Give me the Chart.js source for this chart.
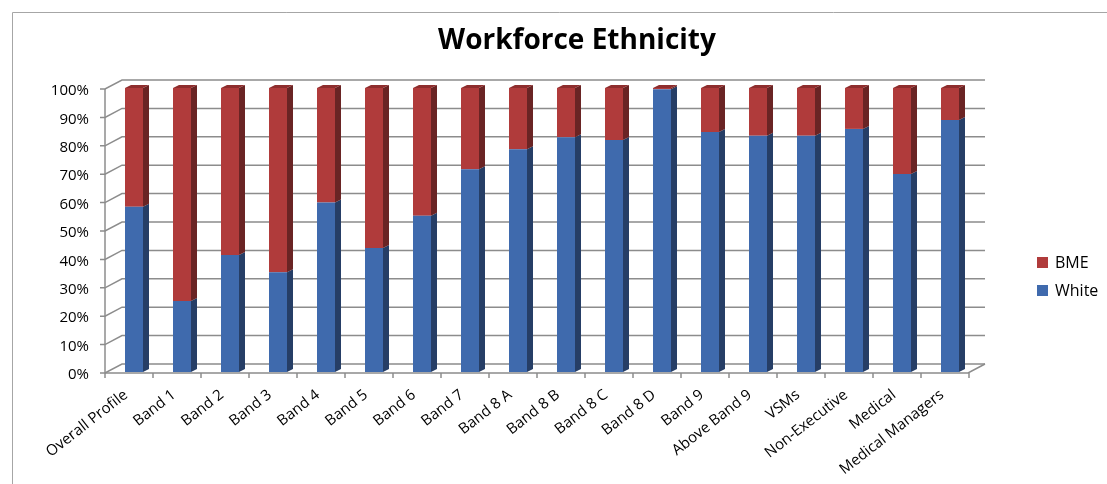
<!DOCTYPE html>
<html>
<head>
<meta charset="utf-8">
<title>Workforce Ethnicity</title>
<script src="https://cdn.jsdelivr.net/npm/chart.js@4.4.1/dist/chart.umd.min.js"></script>
<style>
  html, body { margin: 0; padding: 0; background: #fff; }
  #wrap { position: relative; width: 1107px; height: 484px; }
</style>
</head>
<body>
<div id="wrap"><canvas id="ethnicityChart"></canvas></div>
<script>
// Categorias e percentuais por grupo
const categorias = [
  "Overall Profile", "Band 1", "Band 2", "Band 3", "Band 4", "Band 5", "Band 6",
  "Band 7", "Band 8 A", "Band 8 B", "Band 8 C", "Band 8 D", "Band 9",
  "Above Band 9", "VSMs", "Non-Executive", "Medical", "Medical Managers"
];
const white = [58.2, 25, 41.2, 35.1, 59.7, 43.7, 55, 71.4, 78.4, 82.7, 81.7, 99.6, 84.5, 83.2, 83.2, 85.6, 69.7, 88.7];
const bme = [41.8, 75, 58.8, 64.9, 40.3, 56.3, 45, 28.6, 21.6, 17.3, 18.3, 0.4, 15.5, 16.8, 16.8, 14.4, 30.3, 11.3];
const yTicks = [0, 10, 20, 30, 40, 50, 60, 70, 80, 90, 100];

const cores = {
  white: { front: "#3f6aad", side: "#263e66", top: "#35598f" },
  bme: { front: "#b03b3b", side: "#6a2424", top: "#8e2e2e" },
};
const DX = 17, DY = 9;   // profundidade das paredes
const BX = 6, BY = 3;    // profundidade das barras
const GRID = "#8c8c8c";
const FONT = "'Open Sans', 'DejaVu Sans', sans-serif";

// Paredes, piso e linhas de grade em perspectiva
const wallsPlugin = {
  id: "walls",
  beforeDatasetsDraw(chart) {
    const { ctx, chartArea, scales } = chart;
    const y = scales.y;
    const fx0 = chartArea.left - 5;
    const fx1 = chartArea.right - 6;
    ctx.save();
    ctx.strokeStyle = GRID;
    ctx.lineWidth = 1.5;
    yTicks.forEach((v) => {
      const fy = y.getPixelForValue(v) + 1;
      ctx.beginPath();
      ctx.moveTo(fx0 - 5, fy);
      ctx.lineTo(fx0, fy);
      ctx.lineTo(fx0 + DX, fy - DY);
      ctx.lineTo(fx1 + DX, fy - DY);
      ctx.stroke();
    });
    // aresta frontal da parede esquerda
    ctx.beginPath();
    ctx.moveTo(fx0, y.getPixelForValue(100) + 1);
    ctx.lineTo(fx0, y.getPixelForValue(0) + 1);
    ctx.stroke();
    // piso
    const by = y.getPixelForValue(0) + 1;
    ctx.beginPath();
    ctx.moveTo(fx0, by);
    ctx.lineTo(fx1, by);
    ctx.lineTo(fx1 + DX, by - DY);
    ctx.stroke();
    const step = (chartArea.right - chartArea.left) / categorias.length;
    for (let i = 0; i <= categorias.length; i++) {
      const tx = fx0 + i * step;
      ctx.beginPath();
      ctx.moveTo(tx, by);
      ctx.lineTo(tx, by + 5);
      ctx.stroke();
    }
    ctx.restore();
  },
  afterDatasetsDraw(chart) {
    const { ctx } = chart;
    const keys = ["white", "bme"];
    ctx.save();
    chart.data.datasets.forEach((ds, di) => {
      const meta = chart.getDatasetMeta(di);
      const c = cores[keys[di]];
      meta.data.forEach((bar, i) => {
        const right = bar.x + bar.width / 2;
        const left = bar.x - bar.width / 2;
        const top = Math.min(bar.y, bar.base);
        const bottom = Math.max(bar.y, bar.base);
        // lateral
        ctx.fillStyle = c.side;
        ctx.beginPath();
        ctx.moveTo(right, top);
        ctx.lineTo(right + BX, top - BY);
        ctx.lineTo(right + BX, bottom - BY);
        ctx.lineTo(right, bottom);
        ctx.closePath();
        ctx.fill();
        // topo apenas no último segmento da pilha
        if (di === chart.data.datasets.length - 1) {
          ctx.fillStyle = c.top;
          ctx.beginPath();
          ctx.moveTo(left, top);
          ctx.lineTo(left + BX, top - BY);
          ctx.lineTo(right + BX, top - BY);
          ctx.lineTo(right, top);
          ctx.closePath();
          ctx.fill();
        }
      });
    });
    ctx.restore();
  },
  afterDraw(chart) {
    const { ctx } = chart;
    ctx.save();
    // moldura
    ctx.strokeStyle = "#a6a6a6";
    ctx.lineWidth = 1;
    ctx.beginPath();
    ctx.moveTo(12.5, 484);
    ctx.lineTo(12.5, 12.5);
    ctx.lineTo(1107, 12.5);
    ctx.stroke();
    // título
    ctx.fillStyle = "#000";
    ctx.font = "bold 28px " + FONT;
    ctx.textAlign = "center";
    ctx.textBaseline = "middle";
    ctx.fillText("Workforce Ethnicity", 577, 41);
    // legenda (BME em cima)
    ctx.font = "16px " + FONT;
    ctx.textAlign = "left";
    const itens = [
      { label: chart.data.datasets[1].label, cor: cores.bme.front, y: 262 },
      { label: chart.data.datasets[0].label, cor: cores.white.front, y: 290 },
    ];
    itens.forEach((it) => {
      ctx.fillStyle = it.cor;
      ctx.fillRect(1037, it.y - 5, 11, 11);
      ctx.fillStyle = "#000";
      ctx.fillText(it.label, 1055, it.y + 1);
    });
    ctx.restore();
  },
};

new Chart(document.getElementById("ethnicityChart"), {
  type: "bar",
  data: {
    labels: categorias,
    datasets: [
      { label: "White", data: white, backgroundColor: cores.white.front },
      { label: "BME", data: bme, backgroundColor: cores.bme.front },
    ],
  },
  options: {
    responsive: true,
    maintainAspectRatio: false,
    animation: false,
    devicePixelRatio: 1,
    layout: { padding: { left: 14, right: 133, top: 88, bottom: 0 } },
    datasets: { bar: { barPercentage: 0.375, categoryPercentage: 1 } },
    plugins: {
      legend: { display: false },
      title: { display: false },
      tooltip: { enabled: false },
    },
    scales: {
      x: {
        stacked: true,
        grid: { display: false },
        border: { display: false },
        ticks: {
          color: "#000",
          font: { family: FONT, size: 15 },
          minRotation: 38,
          maxRotation: 38,
          autoSkip: false,
          padding: 6,
          labelOffset: -8,
        },
        afterFit: (scale) => { scale.height = 112; },
      },
      y: {
        stacked: true,
        min: 0,
        max: 100,
        grid: { display: false },
        border: { display: false },
        ticks: {
          stepSize: 10,
          color: "#000",
          font: { family: FONT, size: 15 },
          padding: 13,
          labelOffset: 3,
          callback: (v) => v + "%",
        },
        afterFit: (scale) => { scale.width = 96; },
      },
    },
  },
  plugins: [wallsPlugin],
});
</script>
</body>
</html>
